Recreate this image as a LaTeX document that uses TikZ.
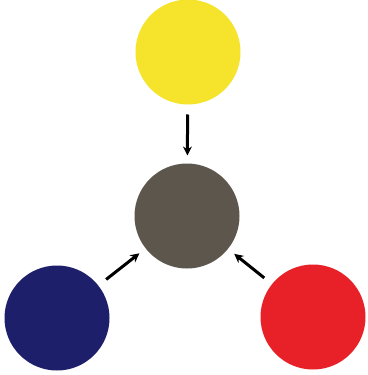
\documentclass[tikz,border=0pt]{standalone}
\usetikzlibrary{arrows.meta}
\definecolor{dyeyellow}{RGB}{246,228,44}
\definecolor{dyegray}{RGB}{92,86,77}
\definecolor{dyeblue}{RGB}{30,31,107}
\definecolor{dyered}{RGB}{232,32,40}
\begin{document}
\begin{tikzpicture}[x=1pt,y=-1pt,>={Stealth[length=9pt,width=9pt]},
  dye/.style={circle,minimum size=105pt,inner sep=0pt,outer sep=0pt},
  mix/.style={->,line width=3pt,shorten <=10pt,shorten >=8pt}]
  \useasboundingbox[fill=white] (0,0) rectangle (367,375);
  \node[dye,fill=dyeyellow] (yellow) at (188,52) {};
  \node[dye,fill=dyegray] (gray) at (187,216) {};
  \node[dye,fill=dyeblue] (blue) at (57,318) {};
  \node[dye,fill=dyered] (red) at (313,317) {};
  \draw[mix] (yellow)--(gray);
  \draw[mix] (blue)--(gray);
  \draw[mix] (red)--(gray);
\end{tikzpicture}
\end{document}
